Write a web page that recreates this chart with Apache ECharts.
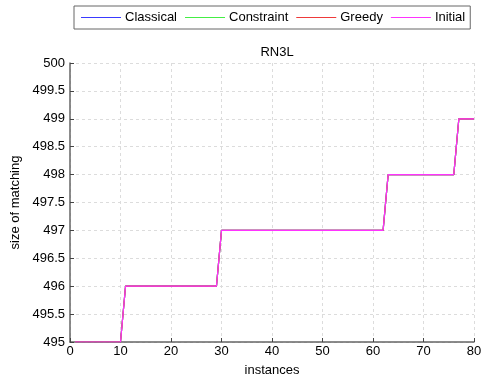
<!DOCTYPE html>
<html>
<head>
<meta charset="utf-8">
<script src="https://cdn.jsdelivr.net/npm/echarts@6/dist/echarts.min.js"></script>
<style>
  html, body { margin: 0; padding: 0; background: #fff; }
  #chart { width: 483px; height: 380px; }
</style>
</head>
<body>
<div id="chart"></div>
<script>
// Instances 1..80 and the matching size reached by each method
const instances = [];
for (let i = 1; i <= 80; i++) instances.push(i);

const seriesNames = ['Classical', 'Constraint', 'Greedy', 'Initial'];
const seriesColors = ['#3a3aff', '#44ee44', '#ee3a3a', '#ff33ff'];

// Matching size per instance (identical for all four methods)
const matchingSize = [
  495, 495, 495, 495, 495, 495, 495, 495, 495, 495,            // 1-10
  496, 496, 496, 496, 496, 496, 496, 496, 496, 496,            // 11-20
  496, 496, 496, 496, 496, 496, 496, 496, 496,                 // 21-29
  497, 497, 497, 497, 497, 497, 497, 497, 497, 497, 497,       // 30-40
  497, 497, 497, 497, 497, 497, 497, 497, 497, 497,            // 41-50
  497, 497, 497, 497, 497, 497, 497, 497, 497, 497, 497, 497,  // 51-62
  498, 498, 498, 498, 498, 498, 498, 498, 498, 498,            // 63-72
  498, 498, 498, 498,                                          // 73-76
  499, 499, 499, 499                                           // 77-80
];
const valuesByMethod = {
  Classical: matchingSize,
  Constraint: matchingSize,
  Greedy: matchingSize,
  Initial: matchingSize
};

const yTicks = { min: 495, max: 500, step: 0.5 };
const xTicks = { min: 0, max: 80, step: 10 };

const fontFamily = '"Liberation Sans", Arial, sans-serif';

const chart = echarts.init(document.getElementById('chart'), null, { renderer: 'canvas' });

chart.setOption({
  animation: false,
  title: {
    text: 'RN3L',
    left: 272,
    textAlign: 'center',
    top: 41,
    textStyle: { fontSize: 13, fontWeight: 'normal', color: '#000', fontFamily }
  },
  legend: {
    data: seriesNames,
    icon: 'rect',
    left: 74,
    top: 6,
    padding: [5, 5, 5, 7],
    itemGap: 8,
    itemWidth: 40,
    itemHeight: 1,
    borderColor: '#666',
    borderWidth: 1,
    textStyle: { fontSize: 13, color: '#000', fontFamily, padding: [0, 0, 0, -1] }
  },
  grid: { left: 70, right: 9, top: 63, bottom: 38, outerBoundsMode: 'none', containLabel: false },
  xAxis: {
    type: 'value',
    min: xTicks.min,
    max: xTicks.max,
    interval: xTicks.step,
    name: 'instances',
    nameLocation: 'middle',
    nameGap: 22,
    nameTextStyle: { fontSize: 13, color: '#000', fontFamily },
    axisLine: { lineStyle: { color: '#666', width: 1.5 } },
    axisTick: { inside: true, length: 4, lineStyle: { color: '#444' } },
    axisLabel: { fontSize: 13, color: '#000', margin: 3, fontFamily },
    splitLine: { show: true, lineStyle: { color: '#dcdcdc', type: [3, 3] } }
  },
  yAxis: {
    type: 'value',
    min: yTicks.min,
    max: yTicks.max,
    interval: yTicks.step,
    name: 'size of matching',
    nameLocation: 'middle',
    nameGap: 45,
    nameTextStyle: { fontSize: 13, color: '#000', fontFamily },
    axisLine: { show: true, lineStyle: { color: '#666', width: 1.5 } },
    axisTick: { show: true, inside: true, length: 4, lineStyle: { color: '#444' } },
    axisLabel: { fontSize: 13, color: '#000', margin: 5, fontFamily },
    splitLine: { show: true, lineStyle: { color: '#dcdcdc', type: [3, 3] } }
  },
  series: seriesNames.map((name, i) => ({
    name,
    type: 'line',
    symbol: 'none',
    color: seriesColors[i],
    lineStyle: { width: 1.2, color: seriesColors[i] },
    data: instances.map((x, k) => [x, valuesByMethod[name][k]]),
    z: 2 + i
  }))
});
</script>
</body>
</html>
